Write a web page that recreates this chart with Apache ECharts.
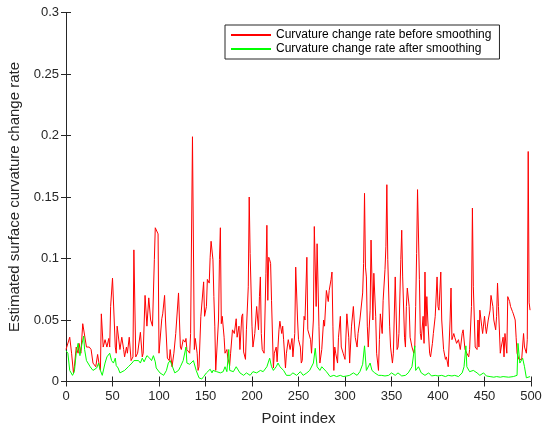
<!DOCTYPE html>
<html>
<head>
<meta charset="utf-8">
<script src="https://cdn.jsdelivr.net/npm/echarts@6/dist/echarts.min.js"></script>
<style>
  html, body { margin: 0; padding: 0; background: #fff; }
  #chart { width: 543px; height: 429px; }
</style>
</head>
<body>
<div id="chart"></div>
<script>
// Curvature change rate per point, raw and smoothed.
const rawIndex = [
  0,4,6,8,9,11,13,14,16,18,20,22,25,27,29,32,34,36,37,38,40,42,44,46,47,48,50,52,53,54,55,57,58,60,62,63,65,66,68,70,72,73,75,77,79,80,82,83,85,87,89,91,93,95,96,98,99,100,102,103,104,106,107,109,111,
  112,114,116,118,121,123,124,126,128,129,130,133,134,136,138,139,141,142,143,145,147,148,149,151,152,154,155,156,158,159,160,161,163,164,165,166,167,168,170,171,173,174,176,177,179,181,183,184,186,187,189,190,191,193,194,196,197,198,200,201,203,205,207,208,209,210,211,213,215,216,217,218,219,220,221,223,224,226,227,229,
  230,232,233,234,236,237,239,241,243,244,246,247,249,250,252,253,254,256,257,259,260,262,263,264,266,267,269,270,272,273,275,277,278,280,282,283,285,286,287,288,289,290,292,293,295,296,298,300,302,304,305,307,309,311,313,314,316,318,319,320,321,322,323,324,325,327,328,330,331,333,334,336,337,338,340,341,343,344,345,346,348,349,351,352,
  354,356,357,358,360,361,362,364,365,366,367,369,370,372,374,375,376,377,378,380,381,382,384,385,386,387,388,389,391,392,394,395,397,399,400,401,403,404,406,408,409,411,413,414,415,417,418,420,422,424,426,427,429,431,433,434,436,437,438,440,442,443,444,445,447,448,450,451,452,454,456,457,459,460,462,463,464,465,467,468,470,471,472,474,475,477,478,480,481,483,484,485,487,488,490,492,493,495,496,497,498,499
];
const rawRate = [
  0.026,0.036,0.023,0.007,0.012,0.028,0.023,0.031,0.023,0.047,0.046,0.028,0.028,0.026,0.015,0.012,0.022,0.012,0.009,0.055,0.028,0.034,0.028,0.035,0.028,0.061,0.084,0.083,0.028,0.023,0.045,0.046,0.026,0.036,0.026,0.02,0.028,0.023,0.036,0.017,0.02,0.107,0.02,0.023,0.022,0.04,0.02,0.023,0.07,0.045,0.068,0.05,0.045,0.099,0.125,0.125,0.12,0.023,0.023,0.051,0.055,0.07,0.05,0.019,0.017,
  0.026,0.012,0.023,0.039,0.072,0.028,0.026,0.034,0.032,0.035,0.026,0.023,0.039,0.199,0.026,0.035,0.023,0.009,0.012,0.053,0.054,0.081,0.053,0.061,0.083,0.08,0.101,0.114,0.099,0.069,0.045,0.009,0.009,0.05,0.099,0.125,0.047,0.053,0.036,0.023,0.026,0.019,0.013,0.023,0.042,0.039,0.051,0.036,0.045,0.026,0.053,0.055,0.024,0.018,0.042,0.077,0.15,0.104,0.045,0.028,0.039,0.061,0.042,0.069,0.085,0.039,0.026,0.023,0.088,0.127,0.066,0.101,0.099,0.096,0.066,0.011,0.023,0.028,0.016,0.042,
  0.049,0.039,0.045,0.034,0.011,0.023,0.034,0.026,0.035,0.02,0.039,0.093,0.05,0.034,0.028,0.015,0.017,0.053,0.05,0.101,0.042,0.042,0.034,0.023,0.05,0.126,0.061,0.112,0.045,0.015,0.026,0.05,0.045,0.074,0.065,0.074,0.083,0.089,0.045,0.009,0.028,0.023,0.015,0.036,0.053,0.028,0.023,0.018,0.055,0.036,0.015,0.045,0.061,0.036,0.028,0.039,0.05,0.051,0.072,0.096,0.153,0.093,0.085,0.045,0.028,0.058,0.115,0.05,0.088,0.053,0.023,0.009,0.034,0.055,0.039,0.066,0.091,0.11,0.16,0.099,0.045,0.028,0.015,0.023,
  0.085,0.026,0.028,0.039,0.099,0.123,0.085,0.036,0.028,0.061,0.076,0.061,0.036,0.028,0.023,0.028,0.061,0.104,0.156,0.083,0.039,0.034,0.053,0.031,0.089,0.045,0.069,0.05,0.023,0.02,0.031,0.039,0.053,0.085,0.061,0.058,0.089,0.05,0.026,0.018,0.02,0.012,0.05,0.076,0.034,0.039,0.036,0.031,0.034,0.026,0.039,0.042,0.026,0.023,0.02,0.026,0.061,0.141,0.077,0.028,0.026,0.05,0.028,0.058,0.045,0.039,0.053,0.045,0.039,0.05,0.058,0.07,0.061,0.05,0.042,0.053,0.08,0.061,0.023,0.028,0.036,0.02,0.039,0.023,0.069,0.065,0.061,0.057,0.055,0.05,0.036,0.023,0.018,0.019,0.018,0.039,0.028,0.023,0.034,0.187,0.064,0.058
];

const smoothIndex = [
  0,2,4,7,9,11,13,15,17,19,20,22,26,29,33,35,37,39,42,44,45,47,49,51,53,54,56,58,60,63,67,71,73,75,78,80,82,84,87,88,90,92,94,96,97,101,105,108,110,112,114,117,121,123,126,129,130,133,137,139,140,143,146,148,151,155,157,158,162,166,169,171,173,175,176,180,183,187,191,194,198,201,205,209,212,216,219,221,223,226,228,230,234,237,241,244,248,252,255,259,262,266,268,270,273,275,277,280,284,288,291,295,298,302,305,309,313,316,319,321,323,327,329,332,336,339,343,347,350,354,357,361,365,368,372,375,376,379,382,386,390,393,397,400,404,408,411,415,418,422,426,428,430,431,434,438,442,445,449,452,456,460,463,467,470,476,481,485,486,488,491,493,495,499
];
const smoothRate = [
  0.025,0.023,0.009,0.005,0.008,0.023,0.031,0.021,0.03,0.037,0.026,0.017,0.012,0.009,0.011,0.015,0.009,0.005,0.015,0.02,0.019,0.023,0.017,0.015,0.019,0.013,0.011,0.007,0.007,0.009,0.012,0.015,0.017,0.016,0.017,0.015,0.019,0.016,0.021,0.02,0.019,0.017,0.021,0.016,0.011,0.007,0.005,0.009,0.015,0.017,0.013,0.007,0.009,0.012,0.017,0.028,0.015,0.014,0.017,0.016,0.009,0.003,0.002,0.004,0.007,0.01,0.007,0.009,0.008,0.007,0.008,0.012,0.008,0.026,0.009,0.008,0.012,0.007,0.005,0.007,0.005,0.008,0.007,0.009,0.008,0.012,0.019,0.012,0.009,0.012,0.015,0.012,0.009,0.005,0.005,0.007,0.005,0.008,0.005,0.007,0.009,0.015,0.027,0.012,0.009,0.012,0.011,0.008,0.004,0.005,0.004,0.005,0.004,0.0045,0.005,0.007,0.005,0.008,0.014,0.029,0.009,0.015,0.009,0.007,0.005,0.005,0.0045,0.005,0.007,0.005,0.007,0.0045,0.005,0.007,0.012,0.029,0.009,0.012,0.007,0.005,0.007,0.0045,0.005,0.0045,0.005,0.004,0.005,0.0045,0.005,0.004,0.007,0.012,0.029,0.012,0.008,0.009,0.007,0.005,0.007,0.0045,0.004,0.0035,0.004,0.0035,0.004,0.0035,0.004,0.005,0.031,0.015,0.019,0.012,0.003,0.004
];

const seriesNames = ['Curvature change rate before smoothing', 'Curvature change rate after smoothing'];
const xAxisTitle = 'Point index';
const yAxisTitle = 'Estimated surface curvature change rate';

const pairs = (xs, ys) => xs.map((x, i) => [x, ys[i]]);

const axisColor = '#262626';
const font = '"Liberation Sans", Arial, sans-serif';

const chart = echarts.init(document.getElementById('chart'), null, { renderer: 'canvas' });

// Boxed axes with inward ticks on all four sides
const boxAxis = (extra) => Object.assign({
  type: 'value',
  axisLine: { show: true, lineStyle: { color: axisColor, width: 1 } },
  axisTick: { show: true, inside: true, length: 5, lineStyle: { color: axisColor } },
  splitLine: { show: false }
}, extra);

chart.setOption({
  animation: false,
  backgroundColor: '#fff',
  textStyle: { fontFamily: font },
  grid: { left: 66, right: 12, top: 12.5, bottom: 47.5, containLabel: false, outerBoundsMode: 'none' },
  legend: {
    data: seriesNames,
    orient: 'vertical',
    left: 225,
    top: 25,
    padding: [4, 8, 4, 5],
    itemGap: 2,
    itemWidth: 40,
    itemHeight: 14,
    itemStyle: { opacity: 0 },
    textStyle: { fontSize: 12, color: '#000', fontFamily: font },
    backgroundColor: '#fff',
    borderColor: axisColor,
    borderWidth: 1,
    borderRadius: 0
  },
  xAxis: [
    boxAxis({
      position: 'bottom', min: 0, max: 500, interval: 50,
      name: xAxisTitle, nameLocation: 'middle', nameGap: 30,
      nameTextStyle: { fontSize: 15, color: axisColor, fontFamily: font },
      axisLabel: { fontSize: 13, color: axisColor, margin: 8, fontFamily: font }
    }),
    boxAxis({
      position: 'top', min: 0, max: 500, interval: 50,
      axisLabel: { show: false }
    })
  ],
  yAxis: [
    boxAxis({
      position: 'left', min: 0, max: 0.3, interval: 0.05,
      name: yAxisTitle, nameLocation: 'middle', nameGap: 38,
      nameTextStyle: { fontSize: 15, color: axisColor, fontFamily: font },
      axisLabel: { fontSize: 13, color: axisColor, margin: 7, fontFamily: font }
    }),
    boxAxis({
      position: 'right', min: 0, max: 0.3, interval: 0.05,
      axisLabel: { show: false }
    })
  ],
  series: [
    {
      name: seriesNames[0],
      type: 'line',
      xAxisIndex: 0, yAxisIndex: 0,
      data: pairs(rawIndex, rawRate),
      symbol: 'none',
      lineStyle: { color: '#ff0000', width: 1 },
      itemStyle: { color: '#ff0000' }
    },
    {
      name: seriesNames[1],
      type: 'line',
      xAxisIndex: 0, yAxisIndex: 0,
      data: pairs(smoothIndex, smoothRate),
      symbol: 'none',
      lineStyle: { color: '#00ff00', width: 1 },
      itemStyle: { color: '#00ff00' }
    }
  ]
});
</script>
</body>
</html>
